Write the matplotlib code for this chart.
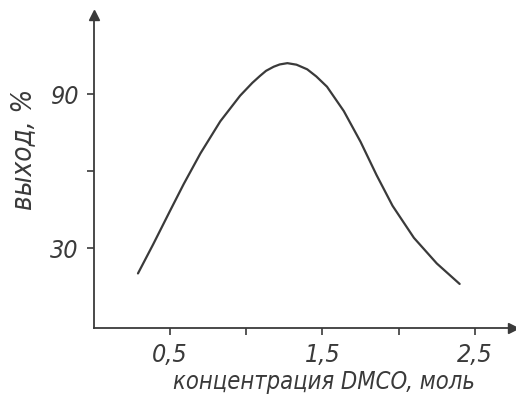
import matplotlib.pyplot as plt

# Yield vs DMSO concentration
conc = [0.29, 0.39, 0.50, 0.59, 0.70, 0.83, 0.96, 1.04, 1.09, 1.13, 1.18,
        1.22, 1.27, 1.33, 1.40, 1.46, 1.53, 1.64, 1.75, 1.855, 1.96,
        2.10, 2.25, 2.40]
yield_pct = [20.1, 31.5, 44.5, 55.0, 67.0, 79.5, 89.5, 94.5, 97.2, 99.2,
             100.8, 101.7, 102.2, 101.6, 99.8, 97.0, 93.0, 83.5, 71.5, 58.5,
             46.5, 34.0, 24.0, 16.0]

x_ticks = [0.5, 1.0, 1.5, 2.0, 2.5]
x_labels = ['0,5', '', '1,5', '', '2,5']
y_ticks = [30, 60, 90]
y_labels = ['30', '', '90']

INK = '#3a3a3a'
FONT = dict(family='DejaVu Sans', style='oblique', stretch='condensed')

fig = plt.figure(figsize=(5.16, 4.0), dpi=100)
ax = fig.add_axes([0.1817, 0.18, 0.8125, 0.7825])

ax.plot(conc, yield_pct, color=INK, lw=1.6, solid_capstyle='round',
        solid_joinstyle='round')

ax.set_xlim(0, 2.75)
ax.set_ylim(-1.2, 121)

for side in ('top', 'right'):
    ax.spines[side].set_visible(False)
for side in ('left', 'bottom'):
    ax.spines[side].set_color(INK)
    ax.spines[side].set_linewidth(1.3)

# arrow heads at the ends of both axes
ax.plot(1, 0, '>', color=INK, ms=7, transform=ax.transAxes, clip_on=False)
ax.plot(0, 1, '^', color=INK, ms=7, transform=ax.transAxes, clip_on=False)

ax.set_xticks(x_ticks)
ax.set_xticklabels(x_labels, fontsize=18, color=INK, **FONT)
ax.set_yticks(y_ticks)
ax.set_yticklabels(y_labels, fontsize=18, color=INK, **FONT)
ax.tick_params(direction='out', length=5, width=1.2, color=INK, pad=6)

ax.set_xlabel('концентрация DMCO, моль', fontsize=17, color=INK, **FONT)
ax.xaxis.set_label_coords(0.55, -0.135)
ax.set_ylabel('выход, %', fontsize=20, color=INK, **FONT)
ax.yaxis.set_label_coords(-0.135, 0.57)

fig.savefig('out.png', dpi=100, facecolor='white')
